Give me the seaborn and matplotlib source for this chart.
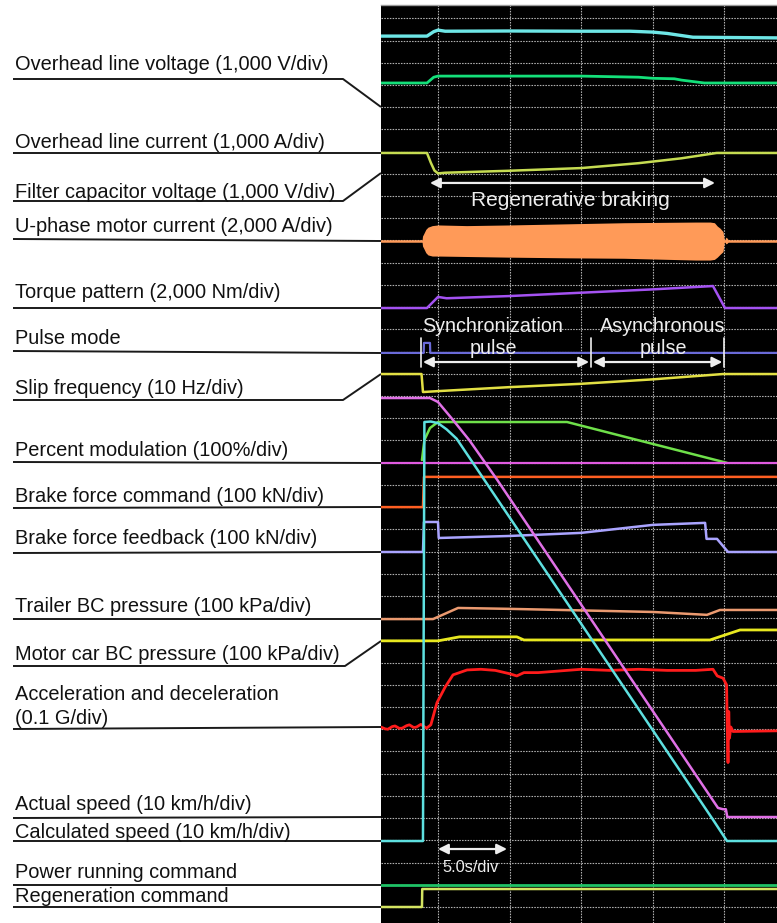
import matplotlib
matplotlib.use("Agg")
import matplotlib.pyplot as plt
import seaborn as sns

# ---------------------------------------------------------------------------
# Recorded traces. Time in seconds (5 s per division), vertical position in
# screen divisions counted from the top graticule line.
# ---------------------------------------------------------------------------
ohv_t = [-3.98, -0.77, -0.3, 0.0, 0.5, 5.0, 10.0, 13.4, 15.0, 16.0, 17.8, 23.67]
ohv_div = [0.80, 0.80, 0.60, 0.53, 0.58, 0.57, 0.58, 0.58, 0.62, 0.68, 0.85, 0.88]

fcv_t = [-3.98, -0.77, -0.3, 0.0, 10.0, 14.0, 15.0, 16.5, 17.0, 18.6, 23.67]
fcv_div = [2.91, 2.91, 2.65, 2.60, 2.60, 2.65, 2.70, 2.72, 2.78, 2.91, 2.91]

olc_t = [-3.98, -0.77, -0.5, -0.25, 0.0, 0.5, 5.0, 10.0, 14.0, 17.0, 19.46, 23.67]
olc_div = [6.06, 6.06, 6.50, 6.85, 6.98, 6.95, 6.86, 6.74, 6.52, 6.30, 6.06, 6.06]

mc_base_t = [-3.98, 23.67]
mc_base_div = [10.02, 10.02]
mc_t = [-1.12, -1.08, -1.0, -0.85, -0.7, -0.4, 0.0, 2.0, 5.0, 9.0, 13.0, 18.0, 19.0,
        19.3, 19.5, 19.7, 19.9, 20.0, 20.1, 20.2, 20.3]
mc_top = [10.02, 9.80, 9.70, 9.50, 9.40, 9.33, 9.30, 9.33, 9.30, 9.25, 9.20, 9.17, 9.17,
          9.20, 9.35, 9.45, 9.60, 10.02, 9.85, 9.90, 10.02]
mc_bot = [10.02, 10.25, 10.35, 10.55, 10.65, 10.70, 10.70, 10.72, 10.75, 10.78, 10.80, 10.88, 10.88,
          10.85, 10.75, 10.62, 10.50, 10.02, 10.15, 10.12, 10.02]

tq_t = [-3.98, -0.77, 0.0, 0.6, 5.0, 10.0, 15.0, 19.2, 20.04, 23.67]
tq_div = [13.04, 13.04, 12.54, 12.60, 12.50, 12.35, 12.20, 12.05, 13.04, 13.04]

pm_t = [-3.98, -1.0, -0.98, -0.56, -0.54, 23.67]
pm_div = [15.06, 15.06, 14.61, 14.61, 15.06, 15.06]

slip_t = [-3.98, -1.15, -1.05, 0.0, 5.0, 10.0, 15.0, 19.9, 23.67]
slip_div = [16.01, 16.01, 16.82, 16.78, 16.60, 16.45, 16.25, 16.01, 16.01]

mod_t = [-1.12, -0.95, -0.56, 0.0, 9.01, 20.18]
mod_div = [19.88, 18.98, 18.44, 18.17, 18.17, 20.01]

mod_zero_t = [-3.98, 23.67]
mod_zero_div = [20.01, 20.01]

bfc_t = [-3.98, -1.05, -0.98, 23.67]
bfc_div = [22.0, 22.0, 20.64, 20.64]

bff_t = [-3.98, -1.05, -0.98, 0.0, 0.05, 4.96, 9.99, 15.01, 18.65, 18.75, 19.48, 20.25, 23.67]
bff_div = [24.02, 24.02, 22.67, 22.67, 23.39, 23.30, 23.16, 22.80, 22.71, 23.43, 23.43, 24.02, 24.02]

tbc_t = [-3.98, -0.35, 1.4, 5.0, 10.0, 15.0, 18.78, 19.69, 23.67]
tbc_div = [27.04, 27.04, 26.54, 26.58, 26.65, 26.72, 26.85, 26.63, 26.63]

mbc_t = [-3.98, 0.0, 1.5, 5.5, 6.0, 18.99, 21.09, 23.67]
mbc_div = [28.02, 28.02, 27.84, 27.84, 27.98, 27.98, 27.53, 27.53]

acc_t = [-3.98, -3.7, -3.5, -3.2, -3.0, -2.7, -2.5, -2.2, -2.0, -1.7, -1.5, -1.2, -0.8, -0.5,
         -0.07, 0.5, 1.05, 1.5, 2.03, 3.0, 4.0, 5.0, 5.5, 6.0, 7.0, 8.0, 9.0, 10.0, 12.0,
         14.0, 16.0, 18.0, 19.2, 19.5, 19.9, 20.15, 20.2, 20.25, 20.3, 20.35, 20.45, 20.6, 23.67]
acc_div = [31.90, 31.98, 32.00, 31.88, 31.85, 31.96, 31.95, 31.84, 31.80, 31.92, 31.90, 31.78, 31.95, 31.80,
           30.80, 30.10, 29.55, 29.45, 29.33, 29.30, 29.35, 29.50, 29.60, 29.45, 29.45, 29.40, 29.35, 29.30, 29.35,
           29.30, 29.35, 29.35, 29.30, 29.60, 29.70, 30.00, 32.00, 33.50, 31.20, 32.40, 31.90, 32.10, 32.07]

act_t = [-3.98, -0.56, 0.0, 1.05, 2.2, 4.12, 19.55, 19.9, 20.1, 20.2, 23.67]
act_div = [17.09, 17.09, 17.27, 18.08, 19.00, 20.76, 35.54, 35.60, 35.60, 35.95, 35.95]

calc_t = [-3.98, -1.05, -0.95, -0.5, 0.0, 0.6, 1.3, 19.21, 20.18, 23.67]
calc_div = [37.03, 37.03, 18.17, 18.15, 18.22, 18.50, 18.92, 36.08, 37.03, 37.03]

prc_t = [-3.98, 23.67]
prc_div = [39.01, 39.01]

regen_t = [-3.98, -1.12, -1.10, 23.67]
regen_div = [40.0, 40.0, 39.19, 39.19]

# Channel captions on the left side
labels = [
    "Overhead line voltage (1,000 V/div)",
    "Overhead line current (1,000 A/div)",
    "Filter capacitor voltage (1,000 V/div)",
    "U-phase motor current (2,000 A/div)",
    "Torque pattern (2,000 Nm/div)",
    "Pulse mode",
    "Slip frequency (10 Hz/div)",
    "Percent modulation (100%/div)",
    "Brake force command (100 kN/div)",
    "Brake force feedback (100 kN/div)",
    "Trailer BC pressure (100 kPa/div)",
    "Motor car BC pressure (100 kPa/div)",
    "Acceleration and deceleration\n(0.1 G/div)",
    "Actual speed (10 km/h/div)",
    "Calculated speed (10 km/h/div)",
    "Power running command",
    "Regeneration command",
]

# ---------------------------------------------------------------------------
W, H = 777, 923
fig = plt.figure(figsize=(W / 100, H / 100), dpi=100)
sns.set_theme(style="white")
plt.rcParams["font.family"] = ["Liberation Sans", "DejaVu Sans"]
fig.patch.set_facecolor("white")

# Caption layer in pixel coordinates
cap = fig.add_axes([0, 0, 1, 1])
cap.set_xlim(0, W)
cap.set_ylim(H, 0)
cap.axis("off")

PANEL_X = 381
text_y = [65, 143, 192, 226, 293, 338, 388, 450, 496, 538, 607, 655, 695, 805, 832, 872, 896]
under_y = [79, 153, 201, 239, 308, 351, 400, 462, 508, 553, 619, 666, 729, 818, 841, 885, 907]
lead_y = [107, 153, 173, 241, 308, 353, 374, 463, 507, 552, 619, 641, 727, 817, 841, 885, 907]
bend_x = [343, None, 343, None, None, None, 343, None, None, None, None, 345, None, None, None, None, None]

for txt, ty, uy, ly, bx in zip(labels, text_y, under_y, lead_y, bend_x):
    for k, line in enumerate(txt.split("\n")):
        cap.text(15, ty + 23 * k, line, fontsize=14.4, color="#111111",
                 ha="left", va="center")
    if bx is None:
        cap.plot([13, PANEL_X], [uy, ly], color="#1a1a1a", lw=1.4, solid_capstyle="butt")
    else:
        cap.plot([13, bx, PANEL_X], [uy, uy, ly], color="#1a1a1a", lw=1.4,
                 solid_capstyle="butt")

# Oscilloscope screen
ax = fig.add_axes([PANEL_X / W, 0, (W - PANEL_X) / W, (H - 5) / H])
ax.set_facecolor("black")
ax.set_xlim(-3.98, 23.67)
ax.set_ylim(40.72, -0.60)
ax.set_xticks([0, 5, 10, 15, 20])
ax.set_yticks(range(41))
ax.tick_params(length=0, labelbottom=False, labelleft=False)
ax.grid(True, color="#b0b0b0", lw=0.8, ls=(0, (1.4, 1.1)))
ax.set_axisbelow(True)
for side in ["left", "right", "bottom"]:
    ax.spines[side].set_visible(False)
ax.spines["top"].set_color("#9a9a9a")
ax.spines["top"].set_linewidth(1.0)
ax.set_xlabel("")
ax.set_ylabel("")


def trace(t, y, color, lw=1.6, **kw):
    sns.lineplot(x=t, y=y, ax=ax, color=color, lw=lw, estimator=None,
                 sort=False, legend=False, **kw)


trace(ohv_t, ohv_div, "#6ee6e6", lw=2.4)
trace(fcv_t, fcv_div, "#14e07a", lw=2.0)
trace(olc_t, olc_div, "#c6dc52", lw=1.8)
trace(mc_base_t, mc_base_div, "#ff9a58", lw=1.8)
ax.fill_between(mc_t, mc_top, mc_bot, color="#ff9a58", lw=0)
trace(tq_t, tq_div, "#a452f2", lw=1.8)
trace(pm_t, pm_div, "#6a6ad8", lw=1.6)
trace(slip_t, slip_div, "#e2e044", lw=1.8)
trace(mod_t, mod_div, "#6fe04a", lw=1.8)
trace(mod_zero_t, mod_zero_div, "#e05ae0", lw=1.6)
trace(bfc_t, bfc_div, "#ff5f22", lw=1.8)
trace(bff_t, bff_div, "#aaa4ff", lw=1.8)
trace(tbc_t, tbc_div, "#eb9a70", lw=1.8)
trace(mbc_t, mbc_div, "#e8e820", lw=2.0)
trace(acc_t, acc_div, "#ff1c1c", lw=2.0)
trace(act_t, act_div, "#e070e6", lw=1.8)
trace(calc_t, calc_div, "#5ee0e0", lw=1.8)
trace(prc_t, prc_div, "#1fc266", lw=2.0)
trace(regen_t, regen_div, "#d4e462", lw=1.8)

# Annotations on the screen
ANN = "#eeeeee"


def span(x0, x1, y):
    ax.annotate("", xy=(x1, y), xytext=(x0, y),
                arrowprops=dict(arrowstyle="<|-|>", color=ANN, lw=1.6,
                                mutation_scale=15, shrinkA=0, shrinkB=0))


span(-0.56, 19.34, 7.41)
ax.text(9.22, 8.18, "Regenerative braking", color=ANN, fontsize=15,
        ha="center", va="center")

for tx in [-1.19, 10.68, 19.97]:
    ax.plot([tx, tx], [14.39, 15.69], color=ANN, lw=1.2)
span(-1.05, 10.55, 15.47)
span(10.82, 19.85, 15.47)
ax.text(3.84, 13.85, "Synchronization", color=ANN, fontsize=14.2, ha="center", va="center")
ax.text(3.84, 14.84, "pulse", color=ANN, fontsize=14.2, ha="center", va="center")
ax.text(15.71, 13.85, "Asynchronous", color=ANN, fontsize=14.2, ha="center", va="center")
ax.text(15.71, 14.84, "pulse", color=ANN, fontsize=14.2, ha="center", va="center")

span(0.0, 4.82, 37.39)
ax.text(2.3, 38.24, "5.0s/div", color=ANN, fontsize=11.8, ha="center", va="center")

fig.savefig("out.png", dpi=100, facecolor="white")
